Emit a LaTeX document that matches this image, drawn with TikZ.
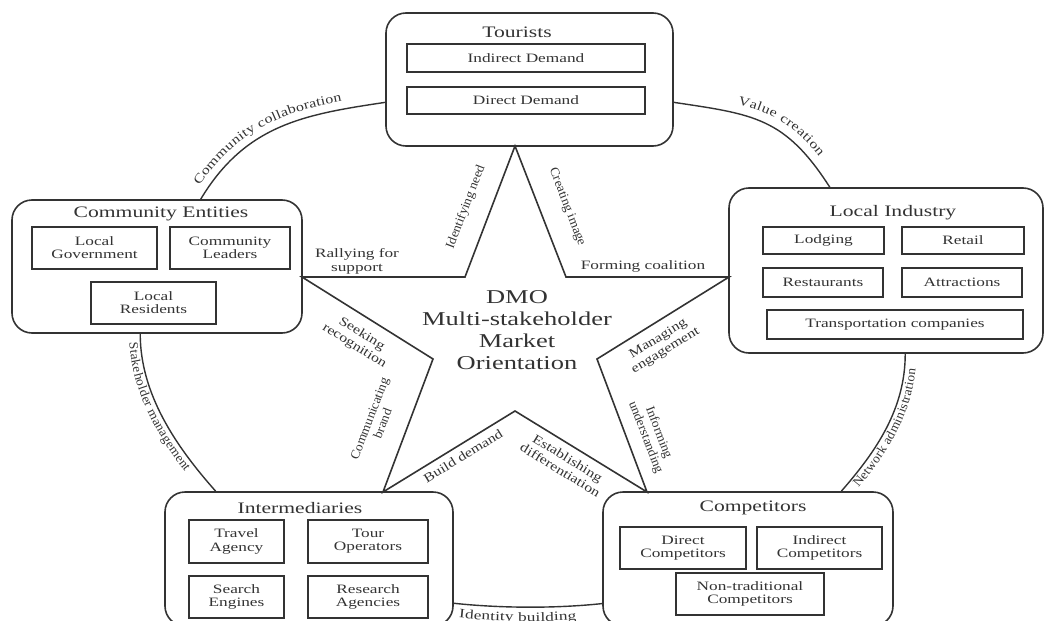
\documentclass[tikz,border=0pt]{standalone}
\usepackage{fontspec}
\setmainfont[FakeStretch=1.35]{Liberation Serif}
\newfontfamily\dfont[FakeStretch=1.25]{Liberation Serif}
\newfontfamily\vfont[FakeStretch=1.05]{Liberation Serif}
\usetikzlibrary{calc,decorations.text}

\begin{document}
\begin{tikzpicture}[x=0.5pt,y=-0.5pt,
  every node/.style={text=black!80},
  stakebox/.style={draw=black!80,line width=0.8pt,rounded corners=10pt,fill=white,inner sep=0pt},
  subbox/.style={draw=black!80,line width=1pt,fill=white,inner sep=0pt,align=center,
    font=\fontsize{6.4}{6.6}\selectfont},
  boxtitle/.style={inner sep=0pt,font=\fontsize{8}{9}\selectfont},
  edgetag/.style={inner sep=0pt,align=center,font=\fontsize{6.4}{7}\selectfont},
  dedgetag/.style={edgetag,font=\dfont\fontsize{6.4}{7}\selectfont},
  vedgetag/.style={edgetag,font=\vfont\fontsize{6.4}{7}\selectfont},
  ring/.style={draw=black!80,line width=0.7pt},
  star/.style={draw=black!80,line width=0.8pt,line join=miter}]
  \useasboundingbox (0,0) rectangle (1045,621);
  % Tourists
  \node[stakebox,minimum width=143.5pt,minimum height=66.5pt] (tour) at (529.5,79.5) {};
  \node[boxtitle] (tourT) at (517,32) {Tourists};
  \node[subbox,minimum width=119pt,minimum height=14pt] (tourI) at (526,58) {Indirect Demand};
  \node[subbox,minimum width=119pt,minimum height=13.5pt] (tourD) at (526,100.5) {Direct Demand};
  % Community Entities
  \node[stakebox,minimum width=145pt,minimum height=66.5pt] (comm) at (157,266.5) {};
  \node[boxtitle] (commT) at (161,214) {Community Entities};
  \node[subbox,minimum width=62.5pt,minimum height=21pt] (commG) at (94.5,248) {Local\\Government};
  \node[subbox,minimum width=60pt,minimum height=21pt] (commL) at (230,248) {Community\\Leaders};
  \node[subbox,minimum width=62.5pt,minimum height=21pt] (commR) at (153.5,303) {Local\\Residents};
  % Local Industry
  \node[stakebox,minimum width=157pt,minimum height=82.5pt] (ind) at (886,270.5) {};
  \node[boxtitle] (indT) at (893,213) {Local Industry};
  \node[subbox,minimum width=60.5pt,minimum height=13.5pt] (indL) at (823.5,240.5) {Lodging};
  \node[subbox,minimum width=61pt,minimum height=13.5pt] (indR) at (963,240.5) {Retail};
  \node[subbox,minimum width=60pt,minimum height=14.5pt] (indS) at (823,282.5) {Restaurants};
  \node[subbox,minimum width=60pt,minimum height=14.5pt] (indA) at (962,282.5) {Attractions};
  \node[subbox,minimum width=128pt,minimum height=14.5pt] (indC) at (895,324.5) {Transportation companies};
  % Intermediaries
  \node[stakebox,minimum width=144pt,minimum height=67pt] (inter) at (309,559) {};
  \node[boxtitle] (interT) at (300,508) {Intermediaries};
  \node[subbox,minimum width=47.5pt,minimum height=21.5pt] (interTA) at (236.5,541.5) {Travel\\Agency};
  \node[subbox,minimum width=60pt,minimum height=21.5pt] (interTO) at (368,541.5) {Tour\\Operators};
  \node[subbox,minimum width=47.5pt,minimum height=21pt] (interSE) at (236.5,597) {Search\\Engines};
  \node[subbox,minimum width=60pt,minimum height=21pt] (interRA) at (368,597) {Research\\Agencies};
  % Competitors
  \node[stakebox,minimum width=145pt,minimum height=67pt] (comp) at (748,559) {};
  \node[boxtitle] (compT) at (753,508) {Competitors};
  \node[subbox,minimum width=63pt,minimum height=21pt] (compD) at (683,548) {Direct\\Competitors};
  \node[subbox,minimum width=62.5pt,minimum height=21pt] (compI) at (819.5,548) {Indirect\\Competitors};
  \node[subbox,minimum width=74pt,minimum height=21pt] (compN) at (750,594) {Non-traditional\\Competitors};

  % outer ring
  \draw[ring,postaction={decorate,decoration={text along path,text color=black!80,
      text align={center,right indent=16pt},raise=4pt,
      text={|\dfont\fontsize{6.4}{7}\selectfont|Community collaboration}}}]
    (comm.57) .. controls +(45,-75) and +(-80,12) .. (tour.189);
  \draw[ring,postaction={decorate,decoration={text along path,text color=black!80,
      text align={center,left indent=16pt},raise=4.5pt,
      text={|\dfont\fontsize{6.4}{7}\selectfont|Value creation}}}]
    (tour.-9) .. controls +(80,12) and +(-45,-70) .. (ind.124);
  \draw[ring,postaction={decorate,decoration={text along path,text color=black!80,
      text align={left,left indent=4pt},raise=-5.5pt,
      text={|\vfont\fontsize{6.4}{7}\selectfont|Stakeholder management}}}]
    (comm.256) .. controls +(0,60) and +(-40,-45) .. (inter.144);
  \draw[ring,postaction={decorate,decoration={text along path,text color=black!80,
      text align=center,raise=-5.5pt,
      text={|\vfont\fontsize{6.4}{7}\selectfont|Network administration}}}]
    (comp.36) .. controls +(35,-40) and +(0,55) .. (ind.283);
  \draw[ring,postaction={decorate,decoration={text along path,text color=black!80,
      text align={center,right indent=10pt},raise=-7pt,
      text={|\fontsize{6.4}{7}\selectfont|Identity building}}}]
    (inter.-17.5) .. controls +(47,5) and +(-47,5) .. (comp.197);

  % star
  \draw[star] (515,146) coordinate (sT) -- (465,277) coordinate (iTL) -- (302,277) coordinate (sL)
    -- (433,359) coordinate (iL) -- (383,492) coordinate (sBL) -- (515,411) coordinate (iB)
    -- (647,492) coordinate (sBR) -- (597,359) coordinate (iR) -- (729,277) coordinate (sR)
    -- (566,277) coordinate (iTR) -- cycle;
  \node[align=center,font=\fontsize{9.8}{10.9}\selectfont] (dmo) at (517,330)
    {DMO\\Multi-stakeholder\\Market\\Orientation};

  % star labels
  \node[vedgetag,rotate=69] (need) at (466,207) {Identifying need};
  \node[vedgetag,rotate=-69] (image) at (567,207) {Creating image};
  \node[edgetag] (coal) at (643,266) {Forming coalition};
  \node[edgetag] (rally) at (357,261) {Rallying for\\support};
  \node[dedgetag,rotate=-32] (recog) at (358,340) {Seeking\\recognition};
  \node[vedgetag,rotate=69] (brand) at (376,421) {Communicating\\brand};
  \node[dedgetag,rotate=31.5] (build) at (463,456) {Build demand};
  \node[dedgetag,rotate=-31.5] (diff) at (564,464) {Establishing\\differentiation};
  \node[vedgetag,rotate=-69] (inform) at (652,435) {Informing\\understanding};
  \node[dedgetag,rotate=31.5] (engage) at (662,345) {Managing\\engagement};
\end{tikzpicture}
\end{document}
